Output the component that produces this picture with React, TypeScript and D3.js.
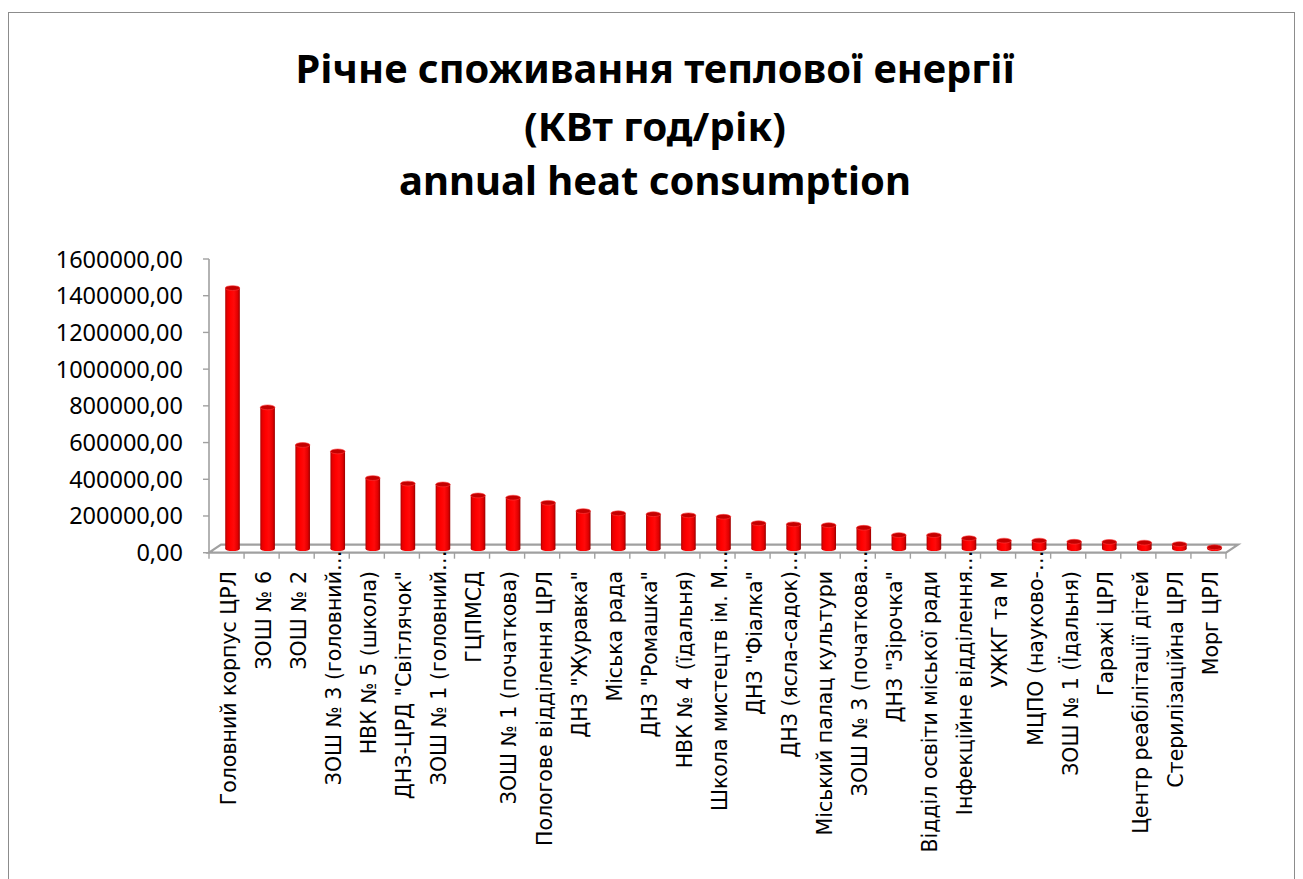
import React, { useEffect, useRef } from "react";
import * as d3 from "d3";

const titleLines = [
  "Річне споживання теплової енергії",
  "(КВт год/рік)",
  "annual heat consumption",
];

const categories = [
  "Головний корпус ЦРЛ",
  "ЗОШ № 6",
  "ЗОШ № 2",
  "ЗОШ № 3 (головний…",
  "НВК № 5 (школа)",
  "ДНЗ-ЦРД  \"Світлячок\"",
  "ЗОШ № 1 (головний…",
  "ГЦПМСД",
  "ЗОШ № 1 (початкова)",
  "Пологове відділення ЦРЛ",
  "ДНЗ \"Журавка\"",
  "Міська рада",
  "ДНЗ \"Ромашка\"",
  "НВК № 4 (їдальня)",
  "Школа мистецтв ім. М…",
  "ДНЗ \"Фіалка\"",
  "ДНЗ (ясла-садок)…",
  "Міський палац культури",
  "ЗОШ № 3 (початкова…",
  "ДНЗ \"Зірочка\"",
  "Відділ освіти міської ради",
  "Інфекційне відділення…",
  "УЖКГ  та  М",
  "МЦПО (науково-…",
  "ЗОШ № 1 (Їдальня)",
  "Гаражі ЦРЛ",
  "Центр реабілітації дітей",
  "Стерилізаційна ЦРЛ",
  "Морг ЦРЛ",
];

const values = [
  1420000, 770000, 565000, 530000, 385000, 355000, 350000, 290000, 278000,
  250000, 205000, 193000, 188000, 182000, 174000, 139000, 133000, 128000,
  114000, 74000, 74000, 57000, 44000, 44000, 38000, 37000, 33000, 25000, 8000,
];

const yTicks = [0, 200000, 400000, 600000, 800000, 1000000, 1200000, 1400000, 1600000];

const W = 1303;
const H = 879;

export default function App() {
  const ref = useRef<SVGSVGElement>(null);

  useEffect(() => {
    const svg = d3.select(ref.current);
    svg.selectAll("*").remove();

    // chart area border
    svg.append("rect")
      .attr("x", 8.5).attr("y", 12.5)
      .attr("width", 1286).attr("height", 900)
      .attr("fill", "#fff")
      .attr("stroke", "#8c8c8c")
      .attr("stroke-width", 1);

    // title
    const titleY = [83, 141, 195];
    const titleLen = [719, 262, 512];
    titleLines.forEach((t, i) => {
      svg.append("text")
        .attr("x", 655)
        .attr("y", titleY[i])
        .attr("text-anchor", "middle")
        .attr("font-family", "'Noto Sans', 'Open Sans', sans-serif")
        .attr("font-weight", "bold")
        .attr("font-size", 40)
        .attr("textLength", titleLen[i])
        .attr("lengthAdjust", "spacingAndGlyphs")
        .text(t);
    });

    const x0 = 209;
    const x1 = 1226;
    const depthX = 12;
    const depthY = -8;

    const x = d3.scaleBand<string>().domain(categories).range([x0, x1]);
    const y = d3.scaleLinear().domain([0, 1600000]).range([552.7, 259]);
    const base = y(0);

    // gradients for cylinders
    const defs = svg.append("defs");
    const grad = defs.append("linearGradient")
      .attr("id", "cyl")
      .attr("x1", "0%").attr("x2", "100%")
      .attr("y1", "0%").attr("y2", "0%");
    [
      ["0%", "#a80000"],
      ["12%", "#e60000"],
      ["35%", "#ff0000"],
      ["60%", "#ff0a0a"],
      ["85%", "#e00000"],
      ["100%", "#9a0000"],
    ].forEach(([o, c]) => grad.append("stop").attr("offset", o).attr("stop-color", c));

    // floor
    const floorColor = "#a0a0a0";
    svg.append("path")
      .attr("d", `M${x0},${base} L${x1},${base} L${x1 + depthX},${base + depthY} L${x0 + depthX},${base + depthY} Z`)
      .attr("fill", "none")
      .attr("stroke", floorColor)
      .attr("stroke-width", 2.2);

    // value axis
    svg.append("line")
      .attr("x1", x0).attr("x2", x0)
      .attr("y1", y(1600000)).attr("y2", base)
      .attr("stroke", floorColor).attr("stroke-width", 1.6);

    const tickG = svg.append("g");
    yTicks.forEach((v) => {
      tickG.append("line")
        .attr("x1", x0 - 6).attr("x2", x0)
        .attr("y1", y(v)).attr("y2", y(v))
        .attr("stroke", floorColor).attr("stroke-width", 1.4);
      tickG.append("text")
        .attr("x", 183)
        .attr("y", y(v) + 8.5)
        .attr("text-anchor", "end")
        .attr("font-family", "'Noto Sans', sans-serif")
        .attr("font-size", 23.5)
        .attr("fill", "#000")
        .text(v.toFixed(2).replace(".", ","));
    });

    // category ticks
    const catTicks = categories.map((c) => x(c) as number).concat([x1]);
    catTicks.forEach((t) => {
      svg.append("line")
        .attr("x1", t).attr("x2", t)
        .attr("y1", base).attr("y2", base + 6)
        .attr("stroke", floorColor).attr("stroke-width", 1.4);
    });

    // cylinders
    const rx = 7.3;
    const ry = 2.4;
    const bars = svg.append("g")
      .selectAll("g")
      .data(categories.map((c, i) => ({ c, v: values[i] })))
      .enter()
      .append("g");

    bars.each(function (d) {
      const g = d3.select(this);
      const cx = (x(d.c) as number) + x.bandwidth() / 2 + depthX / 2;
      const yb = base + depthY / 2;
      const yt = y(d.v) + depthY / 2;
      g.append("ellipse")
        .attr("cx", cx).attr("cy", yb)
        .attr("rx", rx).attr("ry", ry)
        .attr("fill", "url(#cyl)");
      g.append("rect")
        .attr("x", cx - rx).attr("y", yt)
        .attr("width", rx * 2).attr("height", Math.max(0, yb - yt))
        .attr("fill", "url(#cyl)");
      g.append("ellipse")
        .attr("cx", cx).attr("cy", yt)
        .attr("rx", rx).attr("ry", ry)
        .attr("fill", "#c40000")
        .attr("stroke", "#ff3a3a")
        .attr("stroke-width", 0.6);
    });

    // category labels, rotated
    const labelTop = 571;
    const labelFont = "'DejaVu Sans', 'Liberation Sans', sans-serif";
    categories.forEach((c) => {
      const cx = (x(c) as number) + x.bandwidth() / 2 + 2;
      const hasEll = c.endsWith("…");
      const main = hasEll ? c.slice(0, -1) : c;
      const g = svg.append("g")
        .attr("transform", `translate(${cx},${labelTop}) rotate(-90)`);
      g.append("text")
        .attr("x", 0).attr("y", 0)
        .attr("dy", "0.36em")
        .attr("text-anchor", "end")
        .attr("font-family", labelFont)
        .attr("font-size", 20.5)
        .attr("fill", "#000")
        .text(main);
      if (hasEll) {
        g.append("text")
          .attr("x", 0).attr("y", 0)
          .attr("dy", "0.36em")
          .attr("text-anchor", "start")
          .attr("font-family", labelFont)
          .attr("font-size", 20.5)
          .attr("fill", "#000")
          .text("…");
      }
    });
  }, []);

  return (
    <svg
      ref={ref}
      width={W}
      height={H}
      style={{ position: "absolute", left: 0, top: 0, background: "#fff" }}
    />
  );
}
